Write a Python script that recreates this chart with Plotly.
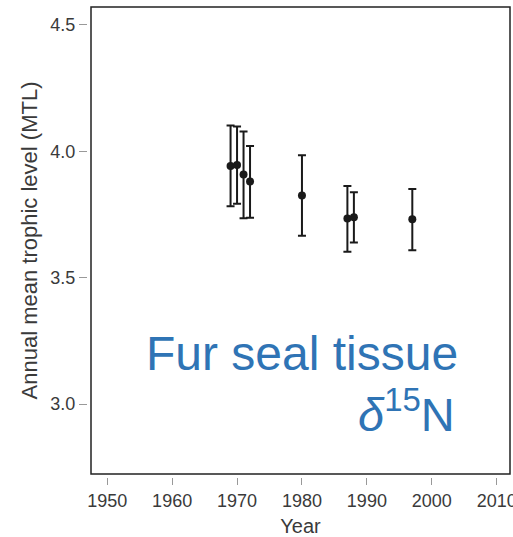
import plotly.graph_objects as go

# fur seal tissue d15N -> annual mean trophic level
years = [1969, 1970, 1971, 1972, 1980, 1987, 1988, 1997]
mtl = [3.942, 3.946, 3.908, 3.880, 3.825, 3.734, 3.739, 3.731]
mtl_upper = [4.102, 4.098, 4.078, 4.021, 3.984, 3.863, 3.838, 3.851]
mtl_lower = [3.783, 3.792, 3.735, 3.737, 3.666, 3.602, 3.639, 3.608]

x_ticks = [1950, 1960, 1970, 1980, 1990, 2000, 2010]
y_ticks = [3.0, 3.5, 4.0, 4.5]

err_plus = [u - m for u, m in zip(mtl_upper, mtl)]
err_minus = [m - l for m, l in zip(mtl, mtl_lower)]

W, H = 513, 537
ml, mr, mt, mb = 60, 3, 7, 40
pw = W - ml - mr
ph = H - mt - mb

# frame edges in pixels, ticks sit a few px outside (R style)
frame_left, frame_bottom = 91, 474
x_dom0 = (frame_left - ml) / pw
y_dom0 = (H - mb - frame_bottom) / ph
y_pos = (frame_left - 4 - ml) / pw
x_pos = (H - mb - frame_bottom - 3) / ph

font = "Liberation Sans, Arial"
grey = "#3a3a3a"
tick_font = dict(family=font, size=18, color=grey)

fig = go.Figure()
fig.add_trace(go.Scatter(
    x=years, y=mtl, mode="markers",
    marker=dict(color="#1a1a1a", size=8),
    error_y=dict(type="data", symmetric=False, array=err_plus, arrayminus=err_minus,
                 color="#1a1a1a", thickness=2, width=4),
    showlegend=False,
))

fig.add_shape(type="rect", xref="x domain", yref="y domain", x0=0, x1=1, y0=0, y1=1,
              line=dict(color="#222222", width=1.5))

blue = "#2f74b5"
fig.add_annotation(x=2004.3, y=3.198, xref="x", yref="y", text="Fur seal tissue",
                   showarrow=False, xanchor="right", yanchor="middle",
                   font=dict(family=font, size=48, color=blue))
fig.add_annotation(x=2003.9, y=2.972, xref="x", yref="y", text="<i>δ</i><sup>15</sup>N",
                   showarrow=False, xanchor="right", yanchor="middle",
                   font=dict(family=font, size=47, color=blue))

fig.update_layout(
    width=W, height=H,
    margin=dict(l=ml, r=mr, t=mt, b=mb),
    paper_bgcolor="white", plot_bgcolor="white",
    xaxis=dict(
        range=[1947.5, 2012.05], domain=[x_dom0, 1], anchor="free", position=x_pos,
        automargin=False, ticklabeloverflow="allow",
        tickvals=x_ticks, ticks="outside", ticklen=7, tickcolor="#999999", tickwidth=1,
        showgrid=False, zeroline=False, showline=False, tickfont=tick_font,
        title=dict(text="Year", font=dict(family=font, size=20, color=grey), standoff=12),
    ),
    yaxis=dict(
        range=[2.723, 4.571], domain=[y_dom0, 1], anchor="free", position=y_pos,
        automargin=False, ticklabeloverflow="allow",
        tickvals=y_ticks, ticktext=[f"{v:.1f}" for v in y_ticks],
        ticks="outside", ticklen=8, tickcolor="#999999", tickwidth=1,
        showgrid=False, zeroline=False, showline=False, tickfont=tick_font,
        title=dict(text="Annual mean trophic level (MTL)",
                   font=dict(family=font, size=22, color=grey), standoff=5),
    ),
)

# drop the default 8px body margin so the figure sits at the window origin
fig.write_html("out.html", config={"displayModeBar": False},
               post_script="document.body.style.margin='0';")
